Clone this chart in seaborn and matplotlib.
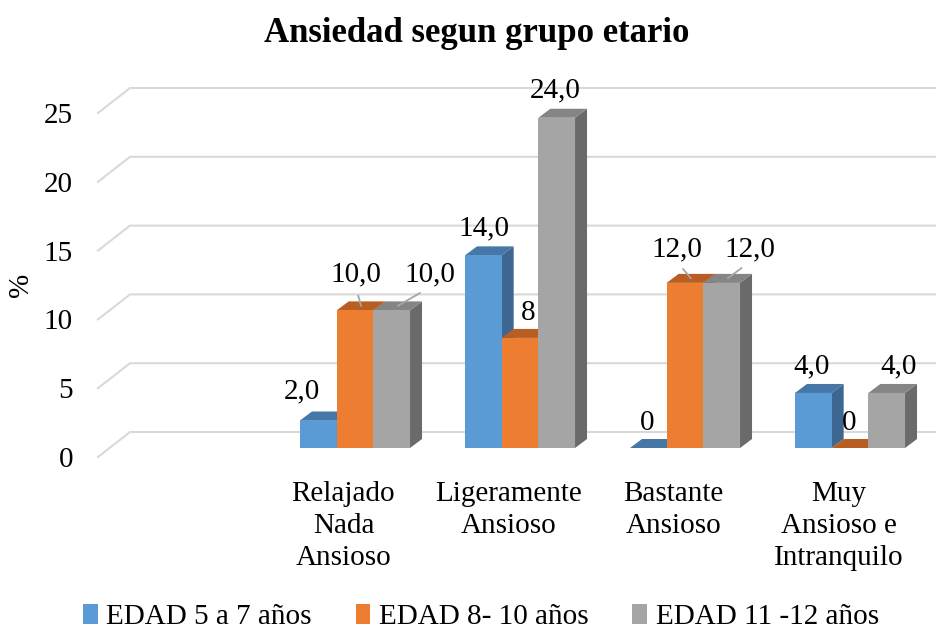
import numpy as np
import pandas as pd
import seaborn as sns
import matplotlib.pyplot as plt
from matplotlib.patches import Polygon, Patch
from matplotlib.transforms import ScaledTranslation

categories = ["", "Relajado\nNada\nAnsioso", "Ligeramente\nAnsioso",
              "Bastante\nAnsioso", "Muy\nAnsioso e\nIntranquilo"]
series = ["EDAD 5 a 7 años", "EDAD 8- 10 años", "EDAD 11 -12 años"]
edad_5_7 = [2.0, 14.0, 0.0, 4.0]
edad_8_10 = [10.0, 8.0, 12.0, 0.0]
edad_11_12 = [10.0, 24.0, 12.0, 4.0]
labels_5_7 = ["2,0", "14,0", "0", "4,0"]
labels_8_10 = ["10,0", "8", "12,0", "0"]
labels_11_12 = ["10,0", "24,0", "12,0", "4,0"]

front = ["#5B9BD5", "#ED7D31", "#A5A5A5"]
top = ["#4677A6", "#B85E22", "#858585"]
side = ["#3D6690", "#A4531D", "#6A6A6A"]

# label offsets in pixels from the bar's front-top centre, and whether a leader line is drawn
label_pos = {
    (0, 1): (-16, 29, False), (1, 1): (1, 36, True), (2, 1): (38, 36, True),
    (0, 2): (1, 27, False), (1, 2): (8, 25, False), (2, 2): (-1, 27, False),
    (0, 3): (-1, 25, False), (1, 3): (-8, 34, True), (2, 3): (28, 34, True),
    (0, 4): (-2, 27, False), (1, 4): (-1, 25, False), (2, 4): (12, 27, False),
}

rows = []
for vals, labs, name in [(edad_5_7, labels_5_7, series[0]),
                         (edad_8_10, labels_8_10, series[1]),
                         (edad_11_12, labels_11_12, series[2])]:
    for cat, v, lab in zip(categories[1:], vals, labs):
        rows.append({"cat": cat, "val": v, "serie": name, "lab": lab})
df = pd.DataFrame(rows)

plt.rcParams["font.family"] = ["Liberation Serif", "DejaVu Serif"]
FS = 21
fig = plt.figure(figsize=(9.4, 6.29), dpi=100)
W, H = 940, 629
ax = fig.add_axes([98 / W, (H - 457) / H, (935 - 98) / W, 344 / H])

sns.barplot(data=df, x="cat", y="val", hue="serie", order=categories,
            hue_order=series, palette=front, width=0.667, ax=ax,
            legend=False, linewidth=0, saturation=1)
ax.set_xlim((98 - 178.5) / 165, (935 - 178.5) / 165)
ax.set_ylim(0, 25)

# pixels -> data units
ppx = ax.transData.transform((1, 0))[0] - ax.transData.transform((0, 0))[0]
ppy = ax.transData.transform((0, 1))[1] - ax.transData.transform((0, 0))[1]
shift = ScaledTranslation(11.5 / 100, 9 / 100, fig.dpi_scale_trans)
btr = ax.transData + shift
ddx, ddy = 12 / ppx, 9 / ppy

# perspective gridlines
gx, gy = 32 / ppx, 25 / ppy
x0, x1 = ax.get_xlim()
for v in range(0, 26, 5):
    ax.plot([x0, x0 + gx, x1], [v, v + gy, v + gy], color="#D9D9D9",
            lw=1.5, zorder=1, clip_on=False)

all_labels = [labels_5_7, labels_8_10, labels_11_12]
for hi, cont in enumerate(ax.containers):
    for bar in cont:
        bx0, bw, h = bar.get_x(), bar.get_width(), bar.get_height()
        if np.isnan(h):
            continue
        bx1 = bx0 + bw
        ci = int(round(bx0 + bw / 2))
        z = 2 + ci * 0.1 + hi * 0.01
        bar.set_transform(btr)
        bar.set_zorder(z + 0.005)
        bar.set_clip_on(False)
        ax.add_patch(Polygon([(bx1, 0), (bx1, h), (bx1 + ddx, h + ddy), (bx1 + ddx, ddy)],
                             closed=True, facecolor=side[hi], lw=0, transform=btr,
                             zorder=z, clip_on=False))
        ax.add_patch(Polygon([(bx0, h), (bx1, h), (bx1 + ddx, h + ddy), (bx0 + ddx, h + ddy)],
                             closed=True, facecolor=top[hi], lw=0, transform=btr,
                             zorder=z + 0.002, clip_on=False))
        dx, dy, leader = label_pos[(hi, ci)]
        txt = all_labels[hi][ci - 1]
        if leader:
            ax.annotate(txt, xy=(bx0 + bw / 2 + ddx / 2, h + ddy / 2), xycoords=btr,
                        xytext=(dx - 6, dy - 4.5), textcoords="offset pixels", ha="center",
                        va="center", fontsize=FS, zorder=5,
                        arrowprops=dict(arrowstyle="-", color="#A6A6A6", lw=1.3,
                                        shrinkA=4, shrinkB=0, relpos=(0.5, 0)))
        else:
            ax.annotate(txt, xy=(bx0 + bw / 2, h), xycoords=btr,
                        xytext=(dx, dy), textcoords="offset pixels", ha="center",
                        va="center", fontsize=FS, zorder=5)

for s in ax.spines.values():
    s.set_visible(False)
ax.grid(False)
ax.set_yticks(range(0, 26, 5))
ax.tick_params(axis="y", length=0, pad=18, labelsize=FS)
ax.tick_params(axis="x", length=0, pad=17, labelsize=FS)
for t in ax.get_xticklabels():
    t.set_linespacing(1.3)
ax.set_xlabel("")
ax.set_ylabel("%", fontsize=FS)
ax.yaxis.set_label_coords((34 - 98) / (935 - 98), 0.5)

fig.text(477 / W, 1 - 33 / H, "Ansiedad segun grupo etario", ha="center",
         va="center", fontsize=25, fontweight="bold")

handles = [Patch(facecolor=c, label=s) for c, s in zip(front, series)]
fig.legend(handles=handles, loc="center", bbox_to_anchor=(481 / W, 1 - 617 / H),
           ncol=3, frameon=False, fontsize=FS, handlelength=0.5, handleheight=0.7,
           handletextpad=0.3, columnspacing=1.5)

fig.savefig("out.png", dpi=100)
